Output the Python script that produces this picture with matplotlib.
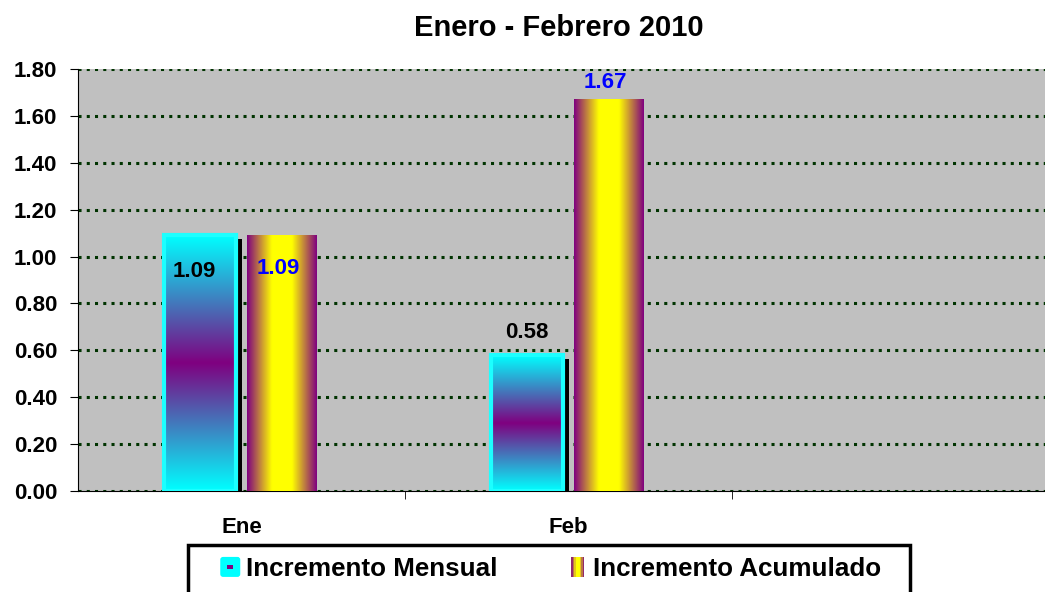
import numpy as np
import matplotlib.pyplot as plt
from matplotlib.patches import Rectangle, FancyBboxPatch
from matplotlib.legend_handler import HandlerBase

plt.rcParams['font.family'] = ['Liberation Sans', 'DejaVu Sans']
plt.rcParams['font.weight'] = 'bold'

# Data
categories = ['Ene', 'Feb']
mensual = [1.09, 0.58]
acumulado = [1.09, 1.67]
series_names = ['Incremento Mensual', 'Incremento Acumulado']
title = 'Enero - Febrero 2010'

CYAN = np.array([0.0, 1.0, 1.0])
PURPLE = np.array([0.5, 0.0, 0.5])
YELLOW = np.array([1.0, 1.0, 0.0])


def vertical_grad(n=200):
    t = np.abs(np.linspace(-1, 1, n))[:, None]
    img = PURPLE * (1 - t[..., None]) + CYAN * t[..., None]
    return np.repeat(img, 2, axis=1)


def horizontal_grad(n=200):
    s = 1 - np.abs(np.linspace(-1, 1, n))
    s = np.clip(s * 1.4, 0, 1)[None, :]
    img = PURPLE * (1 - s[..., None]) + YELLOW * s[..., None]
    return np.repeat(img, 2, axis=0)


fig = plt.figure(figsize=(10.45, 5.92), dpi=100)
ax = fig.add_axes([78 / 1045, 1 - 491 / 592, 1 - 78 / 1045, 422 / 592])
ax.set_facecolor('#C0C0C0')

x = np.arange(len(categories))
off_m, w_m = 0.128, 0.22
off_a, w_a = 0.122, 0.211

# shadow behind the monthly bars
ax.bar(x - off_m + 0.02, [v - 0.015 for v in mensual], w_m, color='black', zorder=2)
bars_m = ax.bar(x - off_m, mensual, w_m, facecolor='none', edgecolor='#1CFFFF', linewidth=3, zorder=4)
bars_a = ax.bar(x + off_a, acumulado, w_a, facecolor='none', edgecolor='none', zorder=4)

for b in bars_m:
    im = ax.imshow(vertical_grad(), extent=(b.get_x(), b.get_x() + b.get_width(), 0, b.get_height()),
                   aspect='auto', zorder=3, interpolation='bilinear')
    im.set_clip_path(b)
for b in bars_a:
    im = ax.imshow(horizontal_grad(), extent=(b.get_x(), b.get_x() + b.get_width(), 0, b.get_height()),
                   aspect='auto', zorder=3, interpolation='bilinear')
    im.set_clip_path(b)

# value labels (Excel put the Ene ones inside the bars)
for i, (m, a) in enumerate(zip(mensual, acumulado)):
    if i == 0:
        ym, ya, dx = m - 0.152, a - 0.139, -0.017
    else:
        ym, ya, dx = m + 0.098, a + 0.074, 0.0
    ax.text(x[i] - off_m + dx, ym, f'{m:.2f}', ha='center', va='center', fontsize=16, color='black', zorder=5)
    ax.text(x[i] + off_a - 0.01, ya, f'{a:.2f}', ha='center', va='center', fontsize=16, color='#0000FF', zorder=5)

ax.set_xlim(-0.5, 2.457)
ax.set_ylim(0, 1.8)
yt = np.arange(0, 1.81, 0.2)
ax.set_yticks(yt)
ax.set_yticklabels([f'{v:.2f}' for v in yt], fontsize=16, fontweight='bold')
ax.set_xticks(x)
ax.set_xticklabels(categories, fontsize=16, fontweight='bold')
ax.tick_params(axis='x', length=0, pad=19)
ax.set_xticks([0.5, 1.5], minor=True)
ax.tick_params(axis='x', which='minor', length=6, direction='out')
ax.tick_params(axis='y', length=6, direction='out', pad=9)
ax.yaxis.grid(True, color='#003300', linestyle=(0, (1, 1.7)), linewidth=2.2, zorder=1)
ax.set_axisbelow(True)
for s in ['top', 'right']:
    ax.spines[s].set_visible(False)

fig.text(0.535, 1 - 28 / 592, title, ha='center', va='center', fontsize=21, fontweight='bold')


class MensualHandler(HandlerBase):
    def create_artists(self, legend, orig, xd, yd, width, height, fontsize, trans):
        s = height * 1.1
        x0 = xd + (width - s) / 2
        y0 = yd + (height - s) / 2
        outer = FancyBboxPatch((x0, y0), s, s, boxstyle='round,pad=0,rounding_size=2',
                               facecolor='#00FFFF', edgecolor='none', transform=trans)
        inner = Rectangle((x0 + s * 0.35, y0 + s * 0.4), s * 0.3, s * 0.2, facecolor='#800080',
                          edgecolor='none', transform=trans)
        return [outer, inner]


class AcumHandler(HandlerBase):
    def create_artists(self, legend, orig, xd, yd, width, height, fontsize, trans):
        s = height * 1.1
        wd = s * 0.65
        x0 = xd + (width - wd) / 2
        y0 = yd + (height - s) / 2
        n = 9
        arts = []
        for k in range(n):
            t = 1 - abs((k + 0.5) / n * 2 - 1)
            t = min(t * 1.4, 1)
            c = PURPLE * (1 - t) + YELLOW * t
            arts.append(Rectangle((x0 + k * wd / n, y0), wd / n, s, facecolor=c, edgecolor='none',
                                  transform=trans))
        return arts


# legend frame drawn separately (its bottom runs off the figure)
fig.patches.append(Rectangle((188 / 1045, -0.05), 722 / 1045, 0.05 + 1 - 545 / 592, transform=fig.transFigure,
                             facecolor='white', edgecolor='black', linewidth=2.5, zorder=0))

h1 = Rectangle((0, 0), 1, 1)
h2 = Rectangle((0, 0), 1, 1)
leg = fig.legend([h1, h2], series_names, loc='center', bbox_to_anchor=(0.527, 1 - 569 / 592),
                 ncol=2, frameon=False, borderaxespad=0, borderpad=0,
                 handler_map={h1: MensualHandler(), h2: AcumHandler()},
                 handlelength=0.8, handletextpad=0.2, columnspacing=2.7,
                 prop={'weight': 'bold', 'size': 18.7})

fig.savefig('out.png', dpi=100)
